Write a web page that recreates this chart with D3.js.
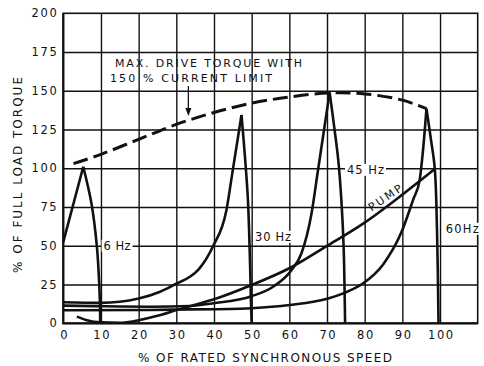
<!DOCTYPE html>
<html><head><meta charset="utf-8">
<script src="https://cdn.jsdelivr.net/npm/d3@7"></script>
<style>
body{margin:0;background:#fff}
text{font-family:"DejaVu Sans",sans-serif;fill:#111}
</style>
</head><body>
<svg id="c" width="484" height="366"></svg>
<script>
// ---- data ----
const xTicks = [0,10,20,30,40,50,60,70,80,90,100];
const yTicks = [0,25,50,75,100,125,150,175,200];
const xGrid  = [10,20,30,40,50,60,70,80,90,100];
const yGrid  = [25,50,75,100,125,150,175];

const maxTorque = [[2.7,103],[10,109],[20,118.7],[30,128.3],[40,136],[50,142],[60,146],[70.5,148.6],[80,148],[90,144],[96.4,138.5]];
const hz6  = [[0,52.5],[5.3,101],[7.5,77],[8.9,50],[9.4,32],[9.7,15],[9.8,0]];
const hz30 = [[0,13.6],[10,13.2],[20,16],[25.7,20.4],[30,25.5],[33.6,30],[36,35],[39.8,50],[43.3,73],[45,99],[47.3,134.4],[48.3,105],[49,80],[49.5,45],[49.8,15],[50,0]];
const hz45 = [[0,11.4],[10,11],[23,10.7],[33.6,11.2],[39.8,12.9],[50,17.5],[55.7,23.6],[60.6,34.4],[63.2,45],[65.9,71],[67.5,97],[70.7,149],[72,125],[73,105],[73.8,80],[74.4,50],[74.8,0]];
const hz60 = [[0,8.4],[23,8.6],[33.6,9],[44.3,9.2],[50,9.7],[60.1,11.8],[70.3,16],[74.3,19.3],[79.6,25.8],[84.9,38],[89.8,59],[92.9,80],[94.6,92.5],[95.5,112],[96.4,138.5],[97.5,120],[98.6,100],[99.2,60],[99.6,0]];
const pump = [[3.6,4.3],[6,2.2],[10,0.6],[15,0.4],[20,2],[25,4.8],[30,8.5],[35,12],[40,15.5],[50,24.7],[60,35.5],[70,50],[80,65],[90,83],[98.6,99.5]];

const curveLabels = [
  {text:"6 Hz",  x:10.7, y:50, w:27},
  {text:"30 Hz", x:50.9, y:55.8, w:36},
  {text:"45 Hz", x:75.3, y:99, w:37},
  {text:"60Hz",  x:101.5, y:61, w:33}
];
const noteLines = ["MAX. DRIVE TORQUE WITH","150 % CURRENT LIMIT"];
const xTitle = "% OF RATED SYNCHRONOUS SPEED";
const yTitle = "% OF FULL LOAD TORQUE";

// ---- scales ----
const x = d3.scaleLinear().domain([0,110]).range([63.3,477.7]);
const y = d3.scaleLinear().domain([0,200]).range([323.3,13.3]);
const svg = d3.select("#c");
const ink = "#111";

// grid
const gG = svg.append("g");
gG.append("g").attr("transform",`translate(0,${y(0)})`)
  .call(d3.axisBottom(x).tickValues(xGrid).tickSize(-(y(0)-y(200))).tickFormat(""))
  .call(g=>g.select(".domain").remove())
  .call(g=>g.selectAll("line").attr("stroke",ink).attr("stroke-width",1.4));
gG.append("g").attr("transform",`translate(${x(0)},0)`)
  .call(d3.axisLeft(y).tickValues(yGrid).tickSize(-(x(110)-x(0))).tickFormat(""))
  .call(g=>g.select(".domain").remove())
  .call(g=>g.selectAll("line").attr("stroke",ink).attr("stroke-width",1.4));
// frame
svg.append("rect").attr("x",x(0)).attr("y",y(200)).attr("width",x(110)-x(0)).attr("height",y(0)-y(200))
  .attr("fill","none").attr("stroke",ink).attr("stroke-width",1.6);
svg.append("path").attr("d",`M${x(0)},${y(200)}V${y(0)}H${x(110)}`).attr("fill","none").attr("stroke",ink).attr("stroke-width",2.2);

// tick labels
const ax = svg.append("g").attr("transform",`translate(0,${y(0)})`)
  .call(d3.axisBottom(x).tickValues(xTicks).tickSize(0).tickPadding(8));
ax.select(".domain").remove();
ax.selectAll("text").attr("font-size",11.5).attr("fill",ink).attr("font-family","DejaVu Sans").style("letter-spacing","1.6px").attr("dx","0.8px");
const ay = svg.append("g").attr("transform",`translate(${x(0)},0)`)
  .call(d3.axisLeft(y).tickValues(yTicks).tickSize(0).tickPadding(5));
ay.select(".domain").remove();
ay.selectAll("text").attr("font-size",11.5).attr("fill",ink).attr("font-family","DejaVu Sans").style("letter-spacing","1.6px");

// curves
const line = d3.line().x(d=>x(d[0])).y(d=>y(d[1])).curve(d3.curveMonotoneX);
const fallLine = d3.line().x(d=>x(d[0])).y(d=>y(d[1])).curve(d3.curveCatmullRom.alpha(0.5));
const lin = d3.line().x(d=>x(d[0])).y(d=>y(d[1]));
function stroke(p){ return p.attr("fill","none").attr("stroke",ink).attr("stroke-width",2.6); }
function drawPeaked(data){
  const im = d3.maxIndex(data, d=>d[1]);
  stroke(svg.append("path").attr("d",line(data.slice(0,im+1))));
  stroke(svg.append("path").attr("d",fallLine(data.slice(im))));
}
// 6 Hz rise is straight
stroke(svg.append("path").attr("d",lin(hz6.slice(0,2))));
stroke(svg.append("path").attr("d",fallLine(hz6.slice(1))));
[hz30,hz45,hz60].forEach(drawPeaked);
stroke(svg.append("path").attr("d",line(pump)));
svg.append("path").attr("d",d3.line().x(d=>x(d[0])).y(d=>y(d[1])).curve(d3.curveCatmullRom)(maxTorque))
  .attr("fill","none").attr("stroke",ink).attr("stroke-width",3).attr("stroke-dasharray","15,6");

// curve labels with white background
curveLabels.forEach(l=>{
  const px = x(l.x), py = y(l.y);
  svg.append("rect").attr("x",px-2).attr("y",py-6).attr("width",l.w+4).attr("height",12).attr("fill","#fff");
  svg.append("text").attr("x",px).attr("y",py+4.3).attr("font-size",11.5)
    .attr("textLength",l.w).attr("lengthAdjust","spacing").text(l.text);
});
// PUMP rotated
svg.append("text").attr("transform",`translate(${x(86)},${y(79)}) rotate(-34)`)
  .attr("text-anchor","middle").attr("font-size",11).attr("textLength",38).attr("lengthAdjust","spacing").text("PUMP");

// note + arrow
svg.append("text").attr("x",115).attr("y",67).attr("font-size",11)
  .attr("textLength",187).attr("lengthAdjust","spacing").text(noteLines[0]);
svg.append("text").attr("x",110).attr("y",81.7).attr("font-size",11)
  .attr("textLength",162).attr("lengthAdjust","spacing").text(noteLines[1]);
const ax0 = x(33.2);
svg.append("line").attr("x1",ax0).attr("x2",ax0).attr("y1",86).attr("y2",110).attr("stroke",ink).attr("stroke-width",1.3);
svg.append("path").attr("d",`M${ax0-3},${108}L${ax0+3},${108}L${ax0},${116}Z`).attr("fill",ink);

// axis titles
svg.append("text").attr("x",138).attr("y",361.5).attr("font-size",12)
  .attr("textLength",254).attr("lengthAdjust","spacing").text(xTitle);
svg.append("text").attr("transform","translate(22,273) rotate(-90)").attr("font-size",12)
  .attr("textLength",196).attr("lengthAdjust","spacing").text(yTitle);
</script>
</body></html>
